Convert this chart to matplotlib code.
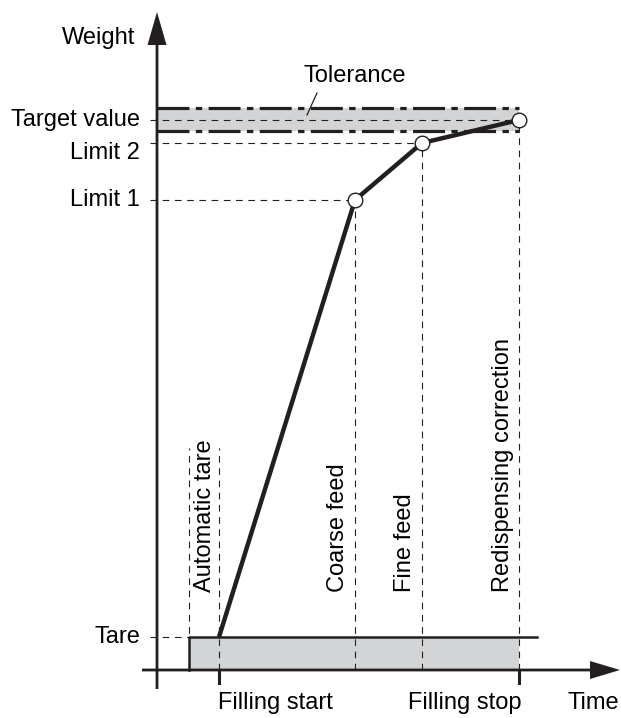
import matplotlib
matplotlib.use('Agg')
import matplotlib.pyplot as plt

# time positions (arbitrary units, origin at the weight axis)
t_tare = 3.2
t_start = 6.2
t_coarse = 19.8
t_fine = 26.5
t_stop = 36.2
t_tare_end = 38.0

# weight levels (arbitrary units)
w_tare = 3.3
w_limit1 = 47.0
w_limit2 = 52.7
w_target = 55.0
w_tol_low = 53.9
w_tol_high = 56.2

# filling curve
curve_t = [t_start, t_coarse, t_fine, t_stop]
curve_w = [w_tare, w_limit1, w_limit2, w_target]

ink = '#231f20'
grey = '#d3d4d6'

plt.rcParams['font.family'] = ['Liberation Sans', 'DejaVu Sans']
plt.rcParams['font.size'] = 17

fig = plt.figure(figsize=(6.21, 7.18), dpi=100)
ax = fig.add_axes([0, 0, 1, 1])
ax.set_xlim(-15.7, 46.4)
ax.set_ylim(-4.8, 67.0)
ax.axis('off')

# tolerance band
ax.fill_between([0, t_stop], w_tol_low, w_tol_high, color=grey, lw=0, zorder=1)
for w in [w_tol_low, w_tol_high]:
    ln, = ax.plot([0, t_stop], [w, w], color=ink, lw=2.3, zorder=3)
    ln.set_dashes((10, 2, 2, 2))

# tare block
ax.fill_between([t_tare, t_stop], 0, w_tare, color=grey, lw=0, zorder=1)
ax.plot([t_tare, t_tare, t_tare_end], [0, w_tare, w_tare], color=ink, lw=1.8, zorder=3)

# dashed helper lines
dash = dict(color=ink, lw=0.8, dashes=(6, 5), zorder=2)
for w, t in [(w_target, t_stop), (w_limit2, t_fine), (w_limit1, t_coarse), (w_tare, t_tare)]:
    ax.plot([-0.7, t], [w, w], **dash)
for t, w in [(t_tare, 22.2), (t_start, 22.2), (t_coarse, w_limit1),
             (t_fine, w_limit2), (t_stop, w_target)]:
    ax.plot([t, t], [0, w], **dash)

# axes with arrows
ax.arrow(0, -1.9, 0, 67.7, width=0.28, head_width=1.9, head_length=3.3,
         length_includes_head=True, color=ink, lw=0, zorder=4)
ax.arrow(-1.5, 0, 47.8, 0, width=0.28, head_width=1.8, head_length=3.0,
         length_includes_head=True, color=ink, lw=0, zorder=4)
for t in [t_start, t_stop]:
    ax.plot([t, t], [0, -1.3], color=ink, lw=2.2, zorder=4)

# filling curve
ax.plot(curve_t, curve_w, color=ink, lw=3.2, zorder=5, solid_capstyle='butt')
ax.plot(curve_t[1:], curve_w[1:], 'o', ms=10.5, mfc='white', mec=ink, mew=1.0, zorder=6)

# labels
ax.text(-2.2, 63.2, 'Weight', ha='right', va='center')
ax.text(-1.7, w_target, 'Target value', ha='right', va='center')
ax.text(-1.7, 51.7, 'Limit 2', ha='right', va='center')
ax.text(-1.7, w_limit1, 'Limit 1', ha='right', va='center')
ax.text(-1.7, w_tare, 'Tare', ha='right', va='center')
ax.text(19.8, 59.4, 'Tolerance', ha='center', va='center')
ax.plot([16.0, 15.0], [57.7, 55.5], color=ink, lw=0.9, zorder=3)

ax.text(t_start - 0.1, -3.3, 'Filling start', ha='left', va='center')
ax.text(30.8, -3.3, 'Filling stop', ha='center', va='center')
ax.text(41.0, -3.3, 'Time', ha='left', va='center')

for x, s in [(4.8, 'Automatic tare'), (18.1, 'Coarse feed'),
             (24.8, 'Fine feed'), (34.6, 'Redispensing correction')]:
    ax.text(x, 7.8, s, rotation=90, ha='center', va='bottom')

fig.savefig('out.png', dpi=100)
